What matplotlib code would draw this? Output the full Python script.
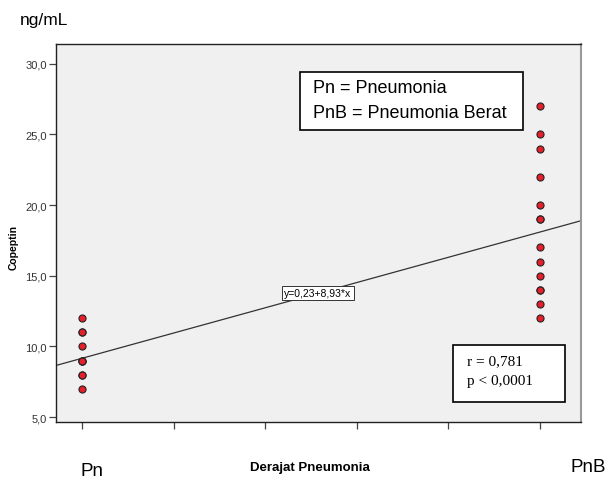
import matplotlib
matplotlib.use("Agg")
import matplotlib.pyplot as plt
from matplotlib.patches import Rectangle
import numpy as np

plt.rcParams['font.family'] = ['Liberation Sans', 'DejaVu Sans']

# Data
group_pos = [1.0, 2.0]
group_labels = ["Pn", "PnB"]
pn_values = [7, 8, 8, 9, 9, 9, 10, 11, 11, 12]
pnb_values = [12, 13, 14, 14, 15, 16, 17, 19, 19, 20, 22, 24, 25, 27]
intercept = 0.23
slope = 8.93
y_ticks = [5, 10, 15, 20, 25, 30]
y_tick_labels = ["5,0", "10,0", "15,0", "20,0", "25,0", "30,0"]
x_ticks = [1.0, 1.2, 1.4, 1.6, 1.8, 2.0]
eq_label = "y=0,23+8,93*x"
stats_lines = ["r = 0,781", "p < 0,0001"]
legend_lines = ["Pn = Pneumonia", "PnB = Pneumonia Berat"]

fig = plt.figure(figsize=(6.07, 4.85), dpi=100)
ax = fig.add_axes([56/607, 1-423/485, 525/607, 378/485])
ax.set_facecolor("#f0f0f0")

xlim = (0.943, 2.09)
ax.set_xlim(*xlim)
ax.set_ylim(4.65, 31.4)

# regression line
xs = np.array(xlim)
ax.plot(xs, intercept + slope * xs, color="#333333", lw=0.9, zorder=2)

# points
ax.scatter([group_pos[0]] * len(pn_values), pn_values, s=26, c="#e6202a",
           edgecolors="#222222", linewidths=0.8, zorder=3)
ax.scatter([group_pos[1]] * len(pnb_values), pnb_values, s=26, c="#e6202a",
           edgecolors="#222222", linewidths=0.8, zorder=3)

ax.set_yticks(y_ticks)
ax.set_yticklabels(y_tick_labels, fontsize=8, color="#333333")
ax.set_xticks(x_ticks)
ax.set_xticklabels([])
ax.tick_params(axis="both", direction="out", length=5, width=0.9, color="#444444", pad=1.5)

for s in ["left", "bottom", "top"]:
    ax.spines[s].set_color("#222222")
    ax.spines[s].set_linewidth(1.0)
ax.spines["right"].set_color("#999999")
ax.spines["right"].set_linewidth(1.5)

ax.set_ylabel("Copeptin", fontsize=7.5, fontweight="bold")
ax.yaxis.set_label_coords((18.5 - 56) / 525, (423 - 247) / 378)

# equation label on line
xm = 1.515
ax.text(xm, intercept + slope * xm, eq_label, fontsize=7.5, ha="center", va="center",
        bbox=dict(boxstyle="square,pad=0.2", fc="white", ec="#333333", lw=0.7), zorder=4)

# legend box
ax.add_patch(Rectangle((0.465, 0.7725), 0.4245, 0.1535, transform=ax.transAxes,
                       fc="white", ec="black", lw=1.2, zorder=4))
ax.text(0.4895, 0.884, legend_lines[0], transform=ax.transAxes, fontsize=13,
        va="center", ha="left", zorder=5)
ax.text(0.4895, 0.820, legend_lines[1], transform=ax.transAxes, fontsize=13,
        va="center", ha="left", zorder=5)

# stats box
ax.add_patch(Rectangle((0.756, 0.0529), 0.2135, 0.1508, transform=ax.transAxes,
                       fc="white", ec="black", lw=1.2, zorder=4))
ax.text(0.782, 0.161, stats_lines[0], transform=ax.transAxes, fontsize=11,
        va="center", ha="left", family=["Liberation Serif"], zorder=5)
ax.text(0.782, 0.111, stats_lines[1], transform=ax.transAxes, fontsize=11,
        va="center", ha="left", family=["Liberation Serif"], zorder=5)

# outer labels
fig.text(20/607, 1-20/485, "ng/mL", fontsize=12.5, ha="left", va="center")
fig.text(310/607, 1-468/485, "Derajat Pneumonia", fontsize=9.5, fontweight="bold",
         ha="center", va="center")
fig.text(92.5/607, 1-472/485, group_labels[0], fontsize=13.5, ha="center", va="center")
fig.text(588/607, 1-468/485, group_labels[1], fontsize=13.5, ha="center", va="center")

fig.savefig("out.png", dpi=100)
